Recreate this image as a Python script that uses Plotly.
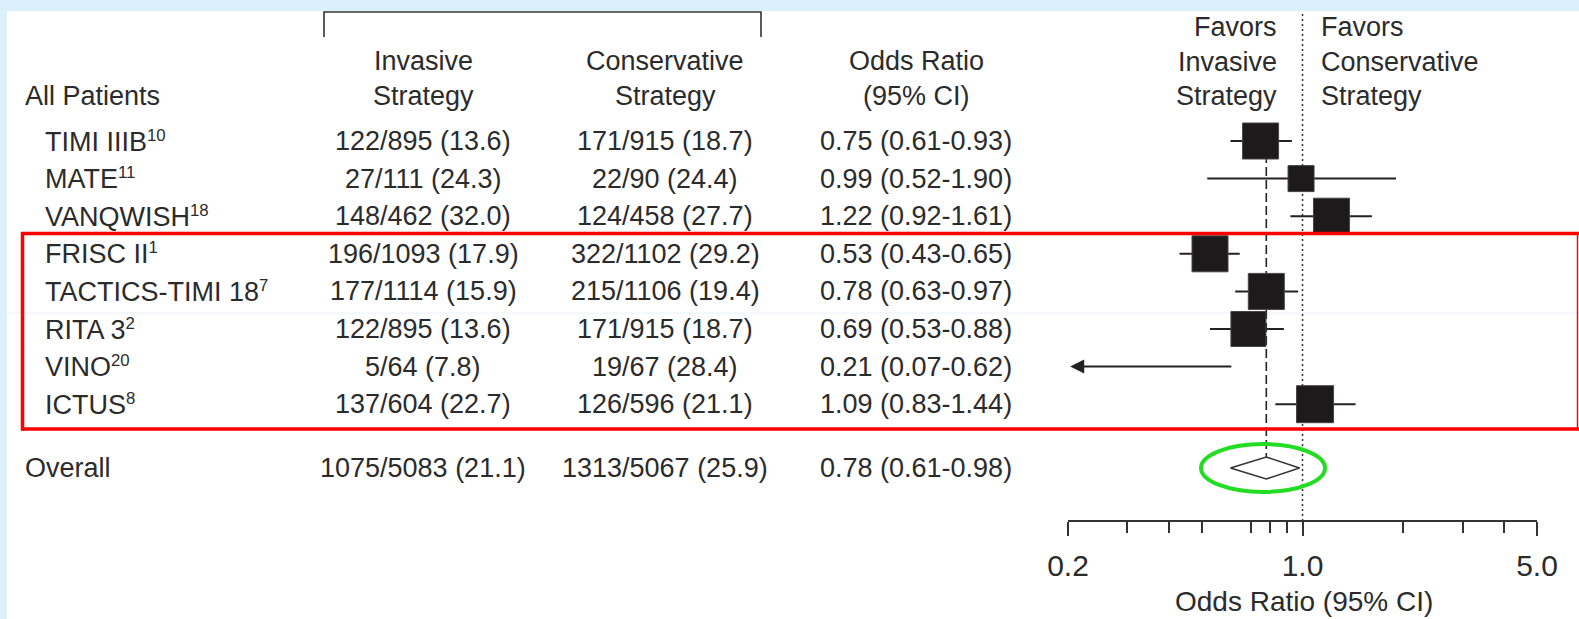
import numpy as np
import plotly.graph_objects as go

# ---------------- data ----------------
studies = ["TIMI IIIB", "MATE", "VANQWISH", "FRISC II", "TACTICS-TIMI 18",
           "RITA 3", "VINO", "ICTUS"]
study_refs = ["10", "11", "18", "1", "7", "2", "20", "8"]
invasive = ["122/895 (13.6)", "27/111 (24.3)", "148/462 (32.0)", "196/1093 (17.9)",
            "177/1114 (15.9)", "122/895 (13.6)", "5/64 (7.8)", "137/604 (22.7)"]
conservative = ["171/915 (18.7)", "22/90 (24.4)", "124/458 (27.7)", "322/1102 (29.2)",
                "215/1106 (19.4)", "171/915 (18.7)", "19/67 (28.4)", "126/596 (21.1)"]
odds_ratio = [0.75, 0.99, 1.22, 0.53, 0.78, 0.69, 0.21, 1.09]
ci_low = [0.61, 0.52, 0.92, 0.43, 0.63, 0.53, 0.07, 0.83]
ci_high = [0.93, 1.90, 1.61, 0.65, 0.97, 0.88, 0.62, 1.44]

overall_label = "Overall"
overall_invasive = "1075/5083 (21.1)"
overall_conservative = "1313/5067 (25.9)"
overall_or = 0.78
overall_low = 0.61
overall_high = 0.98

axis_ticks = [0.2, 1.0, 5.0]
axis_ticklabels = ["0.2", "1.0", "5.0"]
minor_ticks = [0.3, 0.4, 0.5, 0.7, 0.8, 0.9, 2, 3, 4]

# ---------------- style / layout ----------------
W, H = 1579, 619
FONT = "Liberation Sans, Arial, Helvetica, sans-serif"
TXT = "#2b2b2b"
FS = 27
square_px = [36, 26, 36, 36, 36, 35, 0, 37]   # study weight boxes
row0, row_step = 141, 37.6
overall_y = 468
axis_y = 520
x_left_px, x_right_px = 1068, 1537
label_x, inv_x, con_x, or_x = 43, 423, 665, 916

row_y = [row0 + i * row_step for i in range(len(studies))]

fig = go.Figure()

def px(x):
    return x / W

def py(y):
    return 1 - y / H

annotations = []

def ann(x, y, text, size=FS, xanchor="center"):
    annotations.append(dict(x=px(x), y=py(y), xref="paper", yref="paper", text=text,
                            showarrow=False, xanchor=xanchor, yanchor="middle",
                            font=dict(family=FONT, size=size, color=TXT)))

# header texts
ann(23, 96, "All Patients", xanchor="left")
ann(inv_x, 61, "Invasive")
ann(inv_x, 96, "Strategy")
ann(con_x, 61, "Conservative")
ann(con_x, 96, "Strategy")
ann(or_x, 61, "Odds Ratio")
ann(or_x, 96, "(95% CI)")
ann(1279, 27, "Favors", xanchor="right")
ann(1279, 62, "Invasive", xanchor="right")
ann(1279, 96, "Strategy", xanchor="right")
ann(1319, 27, "Favors", xanchor="left")
ann(1319, 62, "Conservative", xanchor="left")
ann(1319, 96, "Strategy", xanchor="left")

for i in range(len(studies)):
    y = row_y[i]
    label = f'{studies[i]}<span style="font-size:24px"><sup>{study_refs[i]}</sup></span>'
    ann(label_x, y, label, xanchor="left")
    ann(inv_x, y, invasive[i])
    ann(con_x, y, conservative[i])
    ann(or_x, y, f"{odds_ratio[i]:.2f} ({ci_low[i]:.2f}-{ci_high[i]:.2f})")

ann(23, overall_y, overall_label, xanchor="left")
ann(inv_x, overall_y, overall_invasive)
ann(con_x, overall_y, overall_conservative)
ann(or_x, overall_y, f"{overall_or:.2f} ({overall_low:.2f}-{overall_high:.2f})")

ann(1304, 601, "Odds Ratio (95% CI)", size=28)

# ---------------- forest marks ----------------
axis_min, axis_max = axis_ticks[0], axis_ticks[-1]

# reference lines
fig.add_trace(go.Scatter(x=[1, 1], y=[14, axis_y], mode="lines",
                         line=dict(color="#333", width=1.5, dash="2px,3px"),
                         hoverinfo="skip", showlegend=False))
fig.add_trace(go.Scatter(x=[overall_or, overall_or], y=[row_y[0], overall_y - 11], mode="lines",
                         line=dict(color="#222", width=1.6, dash="9px,4px"),
                         hoverinfo="skip", showlegend=False))

# CI lines (in-range ones)
cx, cy = [], []
for i in range(len(studies)):
    if ci_low[i] >= axis_min:
        cx += [ci_low[i], ci_high[i], None]
        cy += [row_y[i], row_y[i], None]
fig.add_trace(go.Scatter(x=cx, y=cy, mode="lines", line=dict(color="#222", width=2),
                         hoverinfo="skip", showlegend=False))

# CI lines that run off the scale -> arrow
for i in range(len(studies)):
    if ci_low[i] < axis_min:
        annotations.append(dict(x=np.log10(axis_min * 1.015), y=row_y[i], xref="x", yref="y",
                                ax=np.log10(ci_high[i]), ay=row_y[i], axref="x", ayref="y",
                                showarrow=True, arrowhead=2, arrowsize=1.4, arrowwidth=2,
                                arrowcolor="#222", text=""))

# weight boxes
sx = [odds_ratio[i] for i in range(len(studies)) if square_px[i] > 0]
sy = [row_y[i] for i in range(len(studies)) if square_px[i] > 0]
ss = [square_px[i] for i in range(len(studies)) if square_px[i] > 0]
fig.add_trace(go.Scatter(x=sx, y=sy, mode="markers",
                         marker=dict(symbol="square", size=ss, color="#1c1a1b", opacity=1,
                                     line=dict(color="#444", width=1)),
                         hoverinfo="skip", showlegend=False))

# overall diamond
fig.add_trace(go.Scatter(x=[overall_low, overall_or, overall_high, overall_or, overall_low],
                         y=[overall_y, overall_y - 11, overall_y, overall_y + 11, overall_y],
                         mode="lines", line=dict(color="#333", width=1.5),
                         hoverinfo="skip", showlegend=False))

# ---------------- decorations ----------------
shapes = []
BG = "#dcf0fc"
shapes.append(dict(type="rect", xref="paper", yref="paper", x0=0, x1=1, y0=py(11), y1=1,
                   fillcolor=BG, line=dict(width=0), layer="below"))
shapes.append(dict(type="rect", xref="paper", yref="paper", x0=0, x1=px(7), y0=0, y1=1,
                   fillcolor=BG, line=dict(width=0), layer="below"))
shapes.append(dict(type="line", xref="paper", yref="paper", x0=px(7), x1=1, y0=py(313), y1=py(313),
                   line=dict(color="#e6f3fc", width=1), layer="below"))
# header bracket
shapes.append(dict(type="path", xref="paper", yref="paper",
                   path=f"M {px(324)} {py(37)} L {px(324)} {py(12)} L {px(761)} {py(12)} L {px(761)} {py(37)}",
                   line=dict(color="#333", width=1.6)))
# red highlight box
RED = "#ff0000"
shapes.append(dict(type="line", xref="paper", yref="paper", x0=px(21), x1=px(1579), y0=py(233.5), y1=py(233.5),
                   line=dict(color=RED, width=3.5)))
shapes.append(dict(type="line", xref="paper", yref="paper", x0=px(21), x1=px(1579), y0=py(429), y1=py(429),
                   line=dict(color=RED, width=3.5)))
shapes.append(dict(type="line", xref="paper", yref="paper", x0=px(22.5), x1=px(22.5), y0=py(232), y1=py(430.5),
                   line=dict(color=RED, width=3.5)))
shapes.append(dict(type="line", xref="paper", yref="paper", x0=px(1577.5), x1=px(1577.5), y0=py(232), y1=py(430.5),
                   line=dict(color=RED, width=1.5)))
# green ellipse around pooled estimate
shapes.append(dict(type="circle", xref="paper", yref="paper", x0=px(1201), x1=px(1325),
                   y0=py(444), y1=py(492), line=dict(color="#22dd22", width=4)))

fig.update_layout(
    template="none",
    width=W, height=H,
    margin=dict(l=0, r=0, t=0, b=0, pad=0, autoexpand=False),
    paper_bgcolor="white", plot_bgcolor="rgba(0,0,0,0)",
    showlegend=False,
    annotations=annotations, shapes=shapes,
    xaxis=dict(type="log", range=[np.log10(axis_min), np.log10(axis_max)],
               domain=[px(x_left_px), px(x_right_px)], anchor="y",
               showline=True, linecolor="#333", linewidth=1.6, mirror=False,
               ticks="outside", ticklen=14, tickwidth=1.6, tickcolor="#333",
               tickvals=axis_ticks, ticktext=axis_ticklabels,
               tickfont=dict(family=FONT, size=30, color=TXT),
               ticklabelstandoff=4,
               minor=dict(tickvals=minor_ticks, ticks="outside", ticklen=11,
                          tickwidth=1.6, tickcolor="#333", showgrid=False),
               showgrid=False, zeroline=False, fixedrange=True, automargin=False),
    yaxis=dict(range=[axis_y, 0], domain=[py(axis_y), 1], visible=False,
               showgrid=False, zeroline=False, fixedrange=True, automargin=False),
)

fig.write_html("out.html", config={"displayModeBar": False},
               post_script="document.body.style.margin='0';document.body.style.overflow='hidden';")
